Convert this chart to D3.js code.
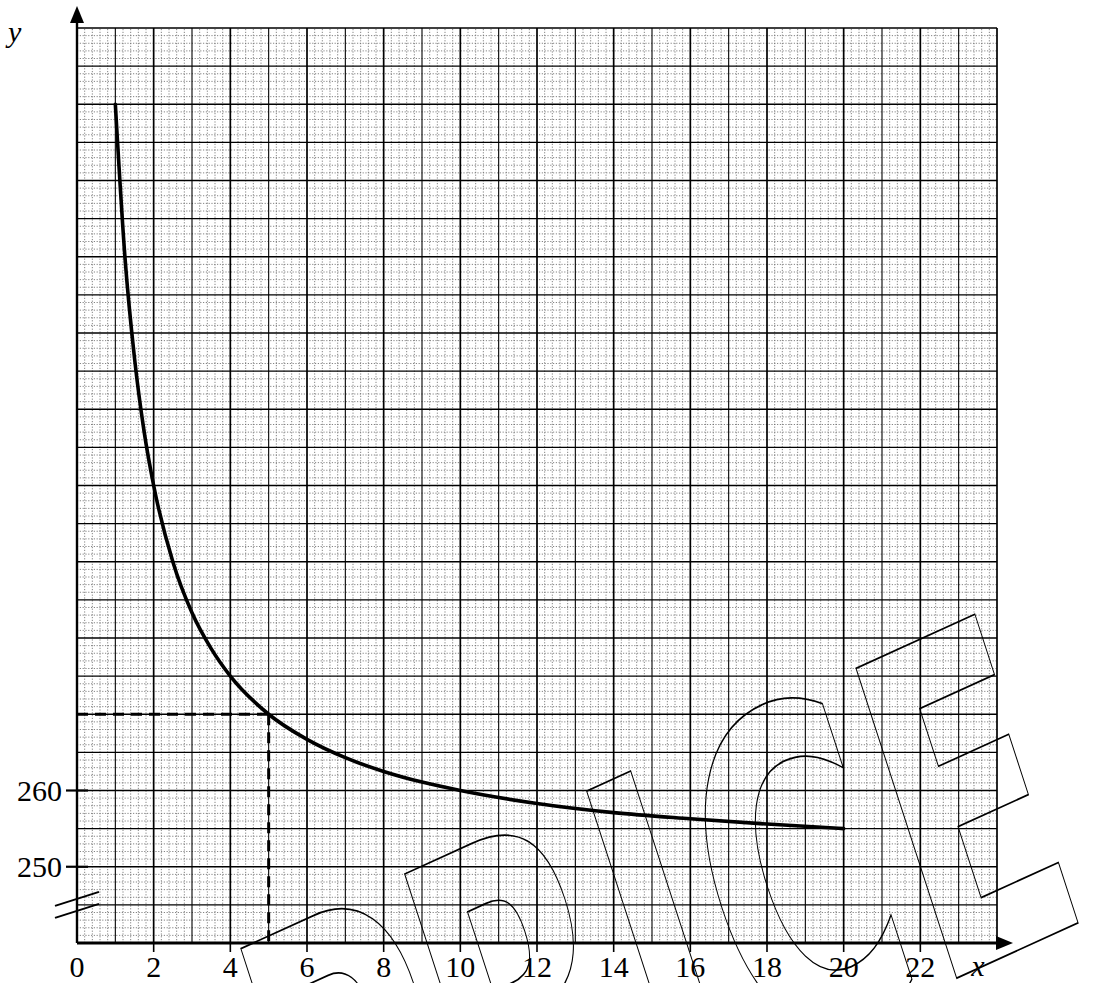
<!DOCTYPE html>
<html><head><meta charset="utf-8">
<script src="https://cdn.jsdelivr.net/npm/d3@7"></script>
<style>html,body{margin:0;padding:0;background:#fff}</style>
</head><body>
<svg id="c" width="1095" height="983" xmlns="http://www.w3.org/2000/svg"></svg>
<script>
// ---- data ----
const curveX = [1, 1.25, 1.5, 1.75, 2, 2.5, 3, 3.5, 4, 5, 6, 7, 8, 9, 10, 12, 14, 16, 18, 20];
const curveY = [350, 330, 316.7, 307.1, 300, 290, 283.3, 278.6, 275, 270, 266.7, 264.3, 262.5, 261.1, 260, 258.3, 257.1, 256.3, 255.6, 255];
const guideX = [0, 5];          // dashed reading line: from x-axis value 0 to 5
const guideY = [270, 240];      // at y = 270 down to the axis
const xTickLabels = [0, 2, 4, 6, 8, 10, 12, 14, 16, 18, 20, 22];
const yTickLabels = [250, 260];
const watermarkLetters = ["P", "R", "I", "C", "E"];

// ---- scales ----
const x = d3.scaleLinear().domain([0, 24]).range([77, 997]);
const y = d3.scaleLinear().domain([240, 360]).range([943, 28]);

const svg = d3.select("#c");
svg.append("rect").attr("width", 1095).attr("height", 983).attr("fill", "#fff");

const g = svg.append("g");
const [x0, x1] = x.domain(), [y0, y1] = y.domain();

// minor grid (dotted)
const minorV = d3.range(0, 121).map(i => i * 0.2).filter(v => Math.abs(v - Math.round(v)) > 1e-6);
const minorH = d3.range(y0, y1 + 0.001, 1).filter(v => v % 5 !== 0);
g.selectAll(".mv").data(minorV).join("line")
  .attr("x1", d => x(d)).attr("x2", d => x(d)).attr("y1", y(y0)).attr("y2", y(y1))
  .attr("stroke", "#666").attr("stroke-width", 0.8).attr("stroke-dasharray", "1.2,1.6");
g.selectAll(".mh").data(minorH).join("line")
  .attr("y1", d => y(d)).attr("y2", d => y(d)).attr("x1", x(x0)).attr("x2", x(x1))
  .attr("stroke", "#666").attr("stroke-width", 0.8).attr("stroke-dasharray", "1.2,1.6");

// unit grid
const unitV = d3.range(1, 25);
const unitH = d3.range(y0 + 5, y1 + 0.001, 5);
g.selectAll(".uv").data(unitV).join("line")
  .attr("x1", d => x(d)).attr("x2", d => x(d)).attr("y1", y(y0)).attr("y2", y(y1))
  .attr("stroke", "#000").attr("stroke-width", d => d % 2 === 0 ? 1.7 : 1.1);
g.selectAll(".uh").data(unitH).join("line")
  .attr("y1", d => y(d)).attr("y2", d => y(d)).attr("x1", x(x0)).attr("x2", x(x1))
  .attr("stroke", "#000").attr("stroke-width", d => d % 10 === 0 ? 1.6 : 1.3);

// ---- dashed reading lines ----
svg.append("line")
  .attr("x1", x(guideX[0])).attr("x2", x(guideX[1])).attr("y1", y(guideY[0])).attr("y2", y(guideY[0]))
  .attr("stroke", "#000").attr("stroke-width", 3).attr("stroke-dasharray", "11,7");
svg.append("line")
  .attr("x1", x(guideX[1])).attr("x2", x(guideX[1])).attr("y1", y(guideY[0])).attr("y2", y(guideY[1]))
  .attr("stroke", "#000").attr("stroke-width", 3).attr("stroke-dasharray", "11,7");

// ---- curve ----
const pts = curveX.map((v, i) => [v, curveY[i]]);
svg.append("path").datum(pts)
  .attr("d", d3.line().x(d => x(d[0])).y(d => y(d[1])).curve(d3.curveMonotoneX))
  .attr("fill", "none").attr("stroke", "#000").attr("stroke-width", 3.6).attr("stroke-linecap", "round");

// ---- axes ----
const ax = svg.append("g");
// y axis with arrow
ax.append("line").attr("x1", x(0)).attr("x2", x(0)).attr("y1", y(y0)).attr("y2", 16)
  .attr("stroke", "#000").attr("stroke-width", 2.4);
ax.append("path").attr("d", `M${x(0)},6 L${x(0) - 7},23 L${x(0) + 7},23 Z`).attr("fill", "#000");
// x axis with arrow
ax.append("line").attr("x1", x(0)).attr("x2", 1004).attr("y1", y(y0)).attr("y2", y(y0))
  .attr("stroke", "#000").attr("stroke-width", 2.8);
ax.append("path").attr("d", `M1013,${y(y0)} L996,${y(y0) - 7} L996,${y(y0) + 7} Z`).attr("fill", "#000");

const serif = "'Liberation Serif','Times New Roman',Times,'DejaVu Serif',serif";
// x ticks + labels
ax.selectAll(".xt").data(xTickLabels.filter(d => d !== 0)).join("line")
  .attr("x1", d => x(d)).attr("x2", d => x(d)).attr("y1", y(y0)).attr("y2", y(y0) + 9)
  .attr("stroke", "#000").attr("stroke-width", 1.6);
ax.selectAll(".xl").data(xTickLabels).join("text")
  .attr("x", d => x(d)).attr("y", y(y0) + 34).attr("text-anchor", "middle")
  .style("font-family", serif).attr("font-size", 30).attr("fill", "#000").text(d => d);
// y ticks + labels
ax.selectAll(".yt").data(yTickLabels).join("line")
  .attr("x1", x(0) - 11).attr("x2", x(0) + 11).attr("y1", d => y(d)).attr("y2", d => y(d))
  .attr("stroke", "#000").attr("stroke-width", 2.2);
ax.selectAll(".yl").data(yTickLabels).join("text")
  .attr("x", x(0) - 15).attr("y", d => y(d) + 10).attr("text-anchor", "end")
  .style("font-family", serif).attr("font-size", 30).attr("fill", "#000").text(d => d);
// axis titles
ax.append("text").attr("x", 8).attr("y", 42).style("font-family", serif).attr("font-style", "italic")
  .attr("font-size", 30).text("y");
ax.append("text").attr("x", 978).attr("y", 976).attr("text-anchor", "middle").style("font-family", serif)
  .attr("font-style", "italic").attr("font-size", 30).text("x");

// axis break symbol
const by = y(245);
[-6, 6].forEach(off => {
  ax.append("line").attr("x1", x(0) - 22).attr("y1", by + off + 7).attr("x2", x(0) + 22).attr("y2", by + off - 7)
    .attr("stroke", "#000").attr("stroke-width", 2);
});

// ---- outlined watermark ----
const scaleX = 0.58;
const letterPos = [-700, -520, -320, -216, -24];
const wm = svg.append("g").attr("transform", "translate(957,978) rotate(-24.5) skewX(-6.5)");
wm.selectAll("text").data(watermarkLetters).join("text")
  .attr("transform", `scale(${scaleX},1)`)
  .attr("x", (d, i) => letterPos[i] / scaleX).attr("y", 0)
  .style("font-family", "'DejaVu Sans',sans-serif").attr("font-weight", "bold").attr("font-size", 444)
  .attr("fill", "none").attr("stroke", "#000").attr("stroke-width", 1.4)
  .attr("vector-effect", "non-scaling-stroke")
  .text(d => d);
</script>
</body></html>
